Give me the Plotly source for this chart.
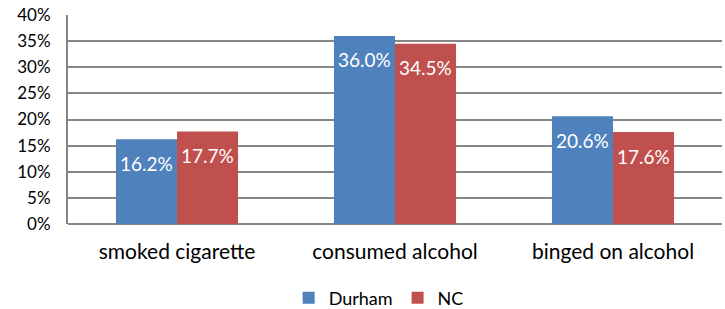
import plotly.graph_objects as go

categories = ["smoked cigarette", "consumed alcohol", "binged on alcohol"]
durham = [16.2, 36.0, 20.6]
nc = [17.7, 34.5, 17.6]
series_names = ["Durham", "NC"]
y_ticks = [0, 5, 10, 15, 20, 25, 30, 35, 40]

colors = ["#4F81BD", "#C0504D"]
font = "Lato, Carlito, Calibri, sans-serif"

fig = go.Figure()
for name, vals, col in zip(series_names, [durham, nc], colors):
    fig.add_trace(go.Bar(
        x=categories, y=vals, name=name, marker=dict(color=col, line=dict(width=0)),
    ))

# value labels inside bars near top
bar_px = 61
for i, (vals) in enumerate([durham, nc]):
    shift = (-0.5 + i) * bar_px
    for c, v in zip(categories, vals):
        fig.add_annotation(x=c, y=v, text=f"{v:.1f}%", showarrow=False,
                           xshift=shift, yshift=-24, yanchor="middle",
                           font=dict(color="white", size=19, family=font))

fig.update_layout(
    width=725, height=309,
    margin=dict(l=68, r=3, t=15, b=85, autoexpand=False),
    paper_bgcolor="white", plot_bgcolor="white",
    barmode="group", bargap=0.44, bargroupgap=0,
    font=dict(family=font, color="#000000"),
    showlegend=True,
    legend=dict(orientation="h", x=0.475, xanchor="center", y=-0.354, yanchor="middle",
                font=dict(size=18, family=font), itemwidth=30, traceorder="normal",
                itemsizing="constant"),
)
fig.update_yaxes(range=[0, 40], tickvals=y_ticks, ticktext=[f"{t}%" for t in y_ticks],
                 showgrid=True, gridcolor="#868686", gridwidth=2,
                 zeroline=True, zerolinecolor="#868686", zerolinewidth=2,
                 showline=True, linecolor="#868686", linewidth=2,
                 tickfont=dict(size=17, family=font), ticklabelstandoff=12)
fig.update_xaxes(showline=False, tickfont=dict(size=21, family=font), ticklabelstandoff=13)

fig.write_html("out.html", config={"displayModeBar": False},
               post_script="document.body.style.margin='0';document.body.style.overflow='hidden';")
